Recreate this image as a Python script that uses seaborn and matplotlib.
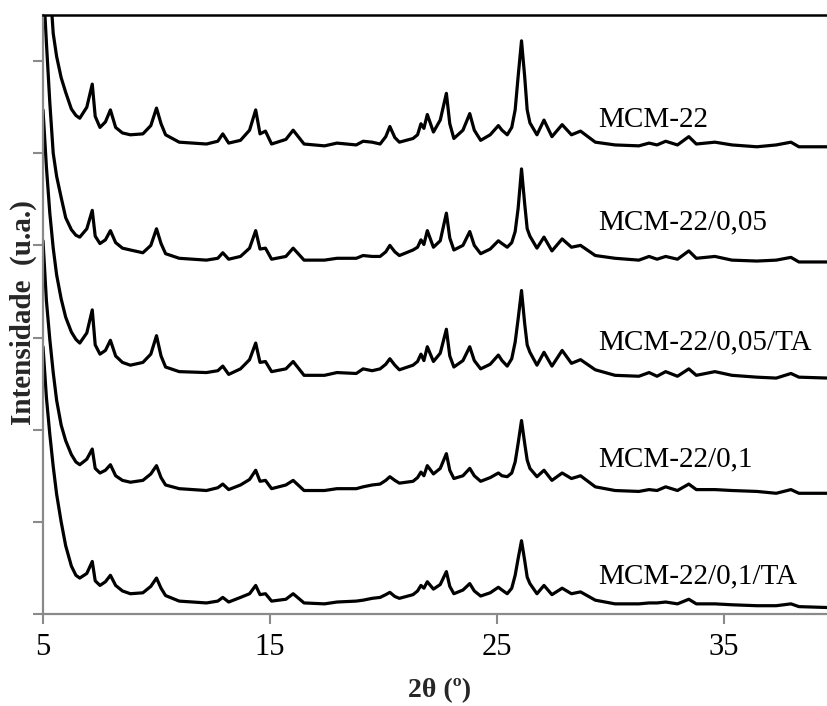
import numpy as np
import pandas as pd
import matplotlib
matplotlib.use("Agg")
import matplotlib.pyplot as plt
import seaborn as sns

# 2θ positions (degrees) shared by all patterns
two_theta = [
    5.0, 5.15, 5.3, 5.45, 5.6, 5.8, 6.0, 6.25, 6.45, 6.62,
    6.93, 7.17, 7.30, 7.51, 7.75, 7.97, 8.2, 8.5, 8.85, 9.4,
    9.75, 10.0, 10.2, 10.4, 11.0, 12.2, 12.7, 12.92, 13.18, 13.7,
    14.1, 14.37, 14.56, 14.8, 15.07, 15.7, 16.02, 16.5, 17.4, 17.95,
    18.8, 19.1, 19.5, 19.85, 20.1, 20.28, 20.5, 20.7, 21.3, 21.5,
    21.65, 21.78, 21.93, 22.2, 22.5, 22.77, 22.92, 23.1, 23.5, 23.8,
    24.0, 24.28, 24.7, 25.06, 25.22, 25.45, 25.65, 25.8, 25.93, 26.08,
    26.22, 26.33, 26.45, 26.76, 27.07, 27.42, 27.87, 28.28, 28.68, 29.33,
    30.2, 31.25, 31.7, 32.05, 32.43, 32.95, 33.45, 33.78, 34.6, 35.35,
    36.45, 37.3, 37.95, 38.3, 39.6,
]

# Stacked intensities (a.u., already offset)
mcm22 = [
    8.6, 7.6, 6.85, 6.30, 6.05, 5.82, 5.66, 5.48, 5.41, 5.38,
    5.50, 5.75, 5.40, 5.28, 5.34, 5.47, 5.28, 5.22, 5.20, 5.21,
    5.30, 5.49, 5.32, 5.20, 5.12, 5.10, 5.13, 5.21, 5.11, 5.14,
    5.25, 5.47, 5.21, 5.24, 5.10, 5.15, 5.25, 5.10, 5.08, 5.11,
    5.09, 5.13, 5.12, 5.10, 5.18, 5.29, 5.17, 5.12, 5.16, 5.20,
    5.32, 5.27, 5.42, 5.23, 5.36, 5.65, 5.32, 5.16, 5.25, 5.43,
    5.25, 5.14, 5.20, 5.30, 5.25, 5.20, 5.28, 5.47, 5.83, 6.22,
    5.83, 5.47, 5.33, 5.20, 5.36, 5.18, 5.31, 5.20, 5.24, 5.12,
    5.09, 5.08, 5.11, 5.09, 5.13, 5.09, 5.18, 5.10, 5.12, 5.09,
    5.07, 5.09, 5.12, 5.07, 5.07,
]
mcm22_005 = [
    6.9, 6.2, 5.55, 5.0, 4.75, 4.52, 4.30, 4.17, 4.11, 4.09,
    4.18, 4.38, 4.10, 4.02, 4.06, 4.16, 4.03, 3.97, 3.95, 3.92,
    4.00, 4.18, 4.02, 3.91, 3.86, 3.84, 3.86, 3.92, 3.85, 3.88,
    3.97, 4.16, 3.96, 3.97, 3.85, 3.88, 3.97, 3.84, 3.84, 3.86,
    3.86, 3.89, 3.88, 3.88, 3.93, 4.00, 3.93, 3.89, 3.95, 3.98,
    4.06, 4.01, 4.16, 3.98, 4.05, 4.35, 4.08, 3.95, 4.00, 4.15,
    4.00, 3.91, 3.96, 4.05, 4.02, 3.98, 4.03, 4.15, 4.40, 4.83,
    4.45, 4.18, 4.10, 3.97, 4.09, 3.94, 4.07, 3.98, 4.00, 3.89,
    3.86, 3.84, 3.88, 3.85, 3.88, 3.85, 3.94, 3.86, 3.88, 3.84,
    3.83, 3.84, 3.87, 3.82, 3.82,
]
mcm22_005_ta = [
    5.47, 4.85, 4.35, 3.97, 3.68, 3.42, 3.22, 3.06, 2.98, 2.94,
    3.05, 3.30, 2.92, 2.82, 2.86, 2.97, 2.80, 2.73, 2.70, 2.73,
    2.82, 3.02, 2.80, 2.68, 2.63, 2.62, 2.64, 2.69, 2.60, 2.66,
    2.76, 2.94, 2.73, 2.74, 2.63, 2.66, 2.74, 2.59, 2.59, 2.62,
    2.61, 2.66, 2.64, 2.66, 2.71, 2.77, 2.70, 2.65, 2.70, 2.74,
    2.82, 2.75, 2.90, 2.74, 2.83, 3.09, 2.80, 2.68, 2.75, 2.90,
    2.75, 2.66, 2.71, 2.81, 2.75, 2.69, 2.77, 2.95, 3.20, 3.51,
    3.15, 2.92, 2.84, 2.70, 2.84, 2.69, 2.86, 2.72, 2.76, 2.65,
    2.59, 2.58, 2.62, 2.58, 2.63, 2.58, 2.66, 2.59, 2.63, 2.59,
    2.57, 2.56, 2.61, 2.57, 2.56,
]
mcm22_01 = [
    4.05, 3.40, 2.98, 2.62, 2.32, 2.05, 1.88, 1.73, 1.65, 1.62,
    1.68, 1.79, 1.58, 1.53, 1.56, 1.62, 1.50, 1.45, 1.43, 1.45,
    1.52, 1.61, 1.48, 1.40, 1.36, 1.34, 1.37, 1.41, 1.35, 1.40,
    1.46, 1.56, 1.44, 1.45, 1.36, 1.40, 1.45, 1.34, 1.34, 1.36,
    1.36, 1.38, 1.40, 1.41, 1.45, 1.49, 1.45, 1.42, 1.44, 1.48,
    1.54, 1.50, 1.61, 1.52, 1.58, 1.74, 1.56, 1.47, 1.50, 1.58,
    1.50, 1.44, 1.48, 1.53, 1.50, 1.49, 1.53, 1.65, 1.85, 2.10,
    1.85, 1.67, 1.58, 1.49, 1.56, 1.45, 1.53, 1.47, 1.50, 1.38,
    1.34, 1.33, 1.35, 1.34, 1.38, 1.34, 1.41, 1.35, 1.35, 1.34,
    1.33, 1.31, 1.35, 1.31, 1.31,
]
mcm22_01_ta = [
    2.90, 2.35, 1.95, 1.60, 1.30, 1.00, 0.74, 0.52, 0.42, 0.39,
    0.44, 0.57, 0.36, 0.31, 0.35, 0.42, 0.31, 0.25, 0.22, 0.23,
    0.30, 0.39, 0.28, 0.20, 0.14, 0.12, 0.14, 0.18, 0.13, 0.18,
    0.22, 0.31, 0.21, 0.22, 0.14, 0.16, 0.22, 0.12, 0.11, 0.13,
    0.14, 0.15, 0.17, 0.18, 0.21, 0.235, 0.19, 0.17, 0.21, 0.25,
    0.31, 0.28, 0.35, 0.27, 0.32, 0.46, 0.30, 0.22, 0.26, 0.33,
    0.25, 0.195, 0.23, 0.29, 0.26, 0.22, 0.28, 0.42, 0.60, 0.795,
    0.58, 0.40, 0.33, 0.22, 0.31, 0.21, 0.28, 0.22, 0.24, 0.15,
    0.11, 0.11, 0.12, 0.12, 0.13, 0.11, 0.16, 0.11, 0.11, 0.10,
    0.09, 0.09, 0.11, 0.08, 0.07,
]

samples = ["MCM-22", "MCM-22/0,05", "MCM-22/0,05/TA", "MCM-22/0,1", "MCM-22/0,1/TA"]
series = [mcm22, mcm22_005, mcm22_005_ta, mcm22_01, mcm22_01_ta]
label_y = [5.36, 4.25, 2.95, 1.68, 0.41]
label_x = 29.45

x_ticks = [5, 15, 25, 35]

df = pd.concat(
    [pd.DataFrame({"two_theta": two_theta, "intensity": vals, "sample": name})
     for name, vals in zip(samples, series)],
    ignore_index=True,
)

sns.set_style("ticks")
plt.rcParams["font.family"] = ["Liberation Serif", "DejaVu Serif"]

fig = plt.figure(figsize=(8.27, 7.06), dpi=100)
ax = fig.add_axes([43 / 827, 92 / 706, 784 / 827, 599 / 706])

sns.lineplot(
    data=df, x="two_theta", y="intensity", hue="sample", units="sample",
    estimator=None, palette=["black"] * len(samples), linewidth=2.3,
    legend=False, ax=ax,
)
for line in ax.lines:
    line.set_solid_joinstyle("round")
    line.set_solid_capstyle("round")

for name, y in zip(samples, label_y):
    ax.text(label_x, y, name, fontsize=21, color="black", ha="left", va="center")

ax.set_xlim(5, 5 + 784 / 22.7)
ax.set_ylim(0, 6.5)
ax.set_xticks(x_ticks)
ax.set_xticklabels([str(t) for t in x_ticks])
ax.set_yticks(np.arange(0, 7, 1))
ax.set_yticklabels([])

grey = "#8a8a8a"
for side in ["left", "bottom"]:
    ax.spines[side].set_color(grey)
    ax.spines[side].set_linewidth(1.6)
ax.spines["top"].set_color("black")
ax.spines["top"].set_linewidth(1.8)
ax.spines["right"].set_visible(False)
ax.tick_params(axis="both", direction="out", length=7, width=1.5, color=grey,
               labelsize=22, labelcolor="black", pad=7)

ax.set_xlabel("")
ax.set_ylabel("")
fig.text(440 / 827, 1 - 691 / 706, "2θ (º)", fontsize=20, fontweight="bold",
         ha="center", va="center")
fig.text(23 / 827, 1 - 313 / 706, "Intensidade  (u.a.)", fontsize=21,
         fontweight="bold", rotation=90, ha="center", va="center")

fig.savefig("out.png", dpi=100)
